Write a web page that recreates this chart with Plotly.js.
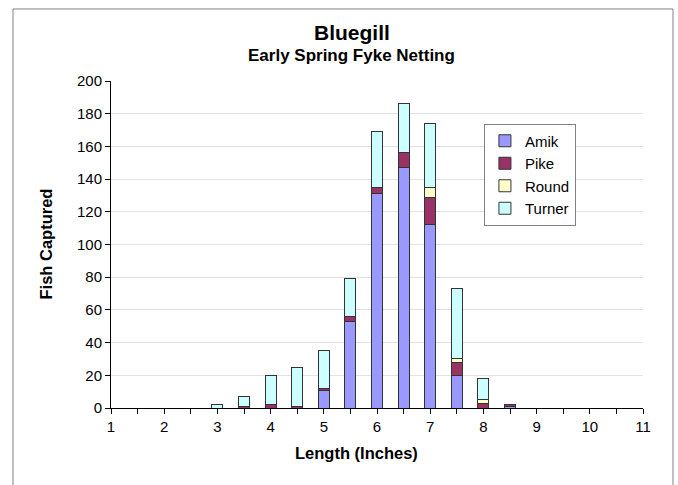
<!DOCTYPE html>
<html>
<head>
<meta charset="utf-8">
<script src="https://cdn.plot.ly/plotly-3.0.1.min.js"></script>
<style>
  html, body { margin: 0; padding: 0; background: #fff; }
  #chart { width: 678px; height: 485px; }
</style>
</head>
<body>
<div id="chart"></div>
<script>
// Length classes (inches), half-inch steps
const lengths = [1, 1.5, 2, 2.5, 3, 3.5, 4, 4.5, 5, 5.5, 6, 6.5, 7, 7.5, 8, 8.5, 9, 9.5, 10, 10.5, 11];

// Fish captured per lake
const amik   = [0, 0, 0, 0, 0, 0, 0, 0, 11, 53, 131, 147, 112, 20, 0, 1, 0, 0, 0, 0, 0];
const pike   = [0, 0, 0, 0, 0, 1, 2, 1, 1, 3, 4, 9, 17, 8, 3, 1, 0, 0, 0, 0, 0];
const round  = [0, 0, 0, 0, 0, 0, 0, 0, 0, 0, 0, 0, 6, 2, 2, 0, 0, 0, 0, 0, 0];
const turner = [0, 0, 0, 0, 2, 6, 18, 24, 23, 23, 34, 30, 39, 43, 13, 0, 0, 0, 0, 0, 0];

// Axis labels: only whole inches are labelled
const xTickLabels = lengths.map(v => Number.isInteger(v) ? String(v) : '');

const font = 'Liberation Sans, Arial, sans-serif';
const outline = { color: '#333333', width: 1 };

function series(name, values, color) {
  return {
    type: 'bar',
    name: name,
    legendgroup: name,
    x: lengths,
    y: values,
    width: 0.21,
    marker: { color: color, line: outline },
    hoverinfo: 'x+y+name'
  };
}

const data = [
  series('Amik', amik, '#9999ff'),
  series('Pike', pike, '#993366'),
  series('Round', round, '#ffffcc'),
  series('Turner', turner, '#ccffff')
];

const layout = {
  width: 678,
  height: 485,
  margin: { l: 111, r: 35, t: 81, b: 77 },
  paper_bgcolor: '#ffffff',
  plot_bgcolor: '#ffffff',
  barmode: 'stack',
  showlegend: true,
  font: { family: font, size: 15, color: '#000' },
  xaxis: {
    range: [1, 11],
    tickmode: 'array',
    tickvals: lengths,
    ticktext: xTickLabels,
    ticks: 'outside',
    ticklen: 5,
    tickcolor: '#000',
    tickwidth: 1,
    showline: true,
    linecolor: '#000',
    linewidth: 1,
    showgrid: false,
    zeroline: false,
    tickfont: { family: font, size: 15, color: '#000' },
    fixedrange: true
  },
  yaxis: {
    range: [0, 200],
    dtick: 20,
    ticks: 'outside',
    ticklen: 5,
    tickcolor: '#000',
    tickwidth: 1,
    showline: true,
    linecolor: '#000',
    linewidth: 1,
    showgrid: true,
    gridcolor: '#e2e2e2',
    gridwidth: 1,
    zeroline: false,
    tickfont: { family: font, size: 15, color: '#000' },
    fixedrange: true
  },
  legend: {
    x: 0.701,
    y: 0.87,
    xanchor: 'left',
    yanchor: 'top',
    bgcolor: '#ffffff',
    bordercolor: '#808080',
    borderwidth: 1,
    traceorder: 'grouped',
    tracegroupgap: 0,
    font: { family: font, size: 15, color: '#000' }
  },
  annotations: [
    {
      text: '<b>Bluegill</b>',
      xref: 'paper', yref: 'paper',
      x: 0.453, y: 1.147, xanchor: 'center', yanchor: 'middle',
      showarrow: false,
      font: { family: font, size: 21, color: '#000' }
    },
    {
      text: '<b>Early Spring Fyke Netting</b>',
      xref: 'paper', yref: 'paper',
      x: 0.453, y: 1.078, xanchor: 'center', yanchor: 'middle',
      showarrow: false,
      font: { family: font, size: 17, color: '#000' }
    },
    {
      text: '<b>Length (Inches)</b>',
      xref: 'paper', yref: 'paper',
      x: 0.462, y: -0.138, xanchor: 'center', yanchor: 'middle',
      showarrow: false,
      font: { family: font, size: 16.5, color: '#000' }
    },
    {
      text: '<b>Fish Captured</b>',
      xref: 'paper', yref: 'paper',
      x: -0.124, y: 0.5, xanchor: 'center', yanchor: 'middle',
      textangle: -90,
      showarrow: false,
      font: { family: font, size: 16.5, color: '#000' }
    }
  ],
  shapes: [
    {
      type: 'rect',
      xref: 'paper', yref: 'paper',
      x0: -0.1842, x1: 1.0564, y0: -0.27, y1: 1.2202,
      line: { color: '#808080', width: 1 },
      fillcolor: 'rgba(0,0,0,0)',
      layer: 'below'
    }
  ]
};

Plotly.newPlot('chart', data, layout, { displayModeBar: false, staticPlot: true });
</script>
</body>
</html>
